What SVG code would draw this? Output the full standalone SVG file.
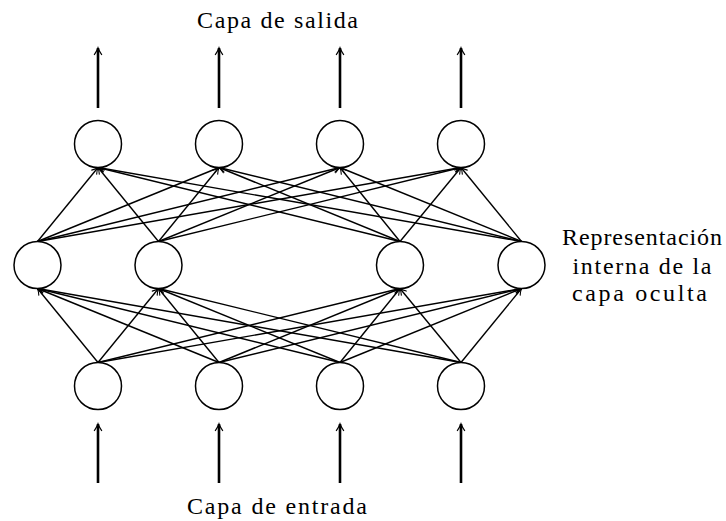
<svg xmlns="http://www.w3.org/2000/svg" width="726" height="521" viewBox="0 0 726 521">
<defs>
<marker id="ah" viewBox="-8 -5 10 10" refX="0" refY="0" markerWidth="10" markerHeight="10" markerUnits="userSpaceOnUse" orient="auto">
<path d="M-6,-3.2 Q-2.5,-0.8 0,0 Q-2.5,0.8 -6,3.2" fill="none" stroke="#000" stroke-width="1.1" stroke-linecap="round"/>
</marker>
<marker id="ahb" viewBox="-8 -5 10 10" refX="0" refY="0" markerWidth="10" markerHeight="10" markerUnits="userSpaceOnUse" orient="auto">
<path d="M-6.5,-3.6 Q-2.5,-0.9 0,0 Q-2.5,0.9 -6.5,3.6" fill="none" stroke="#000" stroke-width="1.3" stroke-linecap="round"/>
</marker>
</defs>
<style>
.n{fill:#fff;stroke:#000;stroke-width:1.5}
.c{stroke:#000;stroke-width:1.4;fill:none;marker-end:url(#ah)}
.io{stroke:#000;stroke-width:2.6;fill:none;marker-end:url(#ahb)}
.t{font-family:"Liberation Serif","Times New Roman",serif;font-size:24px;fill:#000}
</style>
<rect width="726" height="521" fill="#fff"/>
<g id="connectors">
<line class="io" x1="98" y1="483" x2="98" y2="424"/>
<line class="io" x1="219" y1="483" x2="219" y2="424"/>
<line class="io" x1="340" y1="483" x2="340" y2="424"/>
<line class="io" x1="461" y1="483" x2="461" y2="424"/>
<line class="io" x1="98" y1="108" x2="98" y2="48"/>
<line class="io" x1="219" y1="108" x2="219" y2="48"/>
<line class="io" x1="340" y1="108" x2="340" y2="48"/>
<line class="io" x1="461" y1="108" x2="461" y2="48"/>
<line class="c" x1="98" y1="362.5" x2="37.5" y2="288.5"/>
<line class="c" x1="98" y1="362.5" x2="158.5" y2="288.5"/>
<line class="c" x1="98" y1="362.5" x2="400" y2="288.5"/>
<line class="c" x1="98" y1="362.5" x2="521.5" y2="288.5"/>
<line class="c" x1="219" y1="362.5" x2="37.5" y2="288.5"/>
<line class="c" x1="219" y1="362.5" x2="158.5" y2="288.5"/>
<line class="c" x1="219" y1="362.5" x2="400" y2="288.5"/>
<line class="c" x1="219" y1="362.5" x2="521.5" y2="288.5"/>
<line class="c" x1="340" y1="362.5" x2="37.5" y2="288.5"/>
<line class="c" x1="340" y1="362.5" x2="158.5" y2="288.5"/>
<line class="c" x1="340" y1="362.5" x2="400" y2="288.5"/>
<line class="c" x1="340" y1="362.5" x2="521.5" y2="288.5"/>
<line class="c" x1="461" y1="362.5" x2="37.5" y2="288.5"/>
<line class="c" x1="461" y1="362.5" x2="158.5" y2="288.5"/>
<line class="c" x1="461" y1="362.5" x2="400" y2="288.5"/>
<line class="c" x1="461" y1="362.5" x2="521.5" y2="288.5"/>
<line class="c" x1="37.5" y1="241.5" x2="98" y2="167.5"/>
<line class="c" x1="37.5" y1="241.5" x2="219" y2="167.5"/>
<line class="c" x1="37.5" y1="241.5" x2="340" y2="167.5"/>
<line class="c" x1="37.5" y1="241.5" x2="461" y2="167.5"/>
<line class="c" x1="158.5" y1="241.5" x2="98" y2="167.5"/>
<line class="c" x1="158.5" y1="241.5" x2="219" y2="167.5"/>
<line class="c" x1="158.5" y1="241.5" x2="340" y2="167.5"/>
<line class="c" x1="158.5" y1="241.5" x2="461" y2="167.5"/>
<line class="c" x1="400" y1="241.5" x2="98" y2="167.5"/>
<line class="c" x1="400" y1="241.5" x2="219" y2="167.5"/>
<line class="c" x1="400" y1="241.5" x2="340" y2="167.5"/>
<line class="c" x1="400" y1="241.5" x2="461" y2="167.5"/>
<line class="c" x1="521.5" y1="241.5" x2="98" y2="167.5"/>
<line class="c" x1="521.5" y1="241.5" x2="219" y2="167.5"/>
<line class="c" x1="521.5" y1="241.5" x2="340" y2="167.5"/>
<line class="c" x1="521.5" y1="241.5" x2="461" y2="167.5"/>
</g>
<g id="out1"><circle class="n" cx="98" cy="144" r="23.5"/></g>
<g id="out2"><circle class="n" cx="219" cy="144" r="23.5"/></g>
<g id="out3"><circle class="n" cx="340" cy="144" r="23.5"/></g>
<g id="out4"><circle class="n" cx="461" cy="144" r="23.5"/></g>
<g id="hid1"><circle class="n" cx="37.5" cy="265" r="23.5"/></g>
<g id="hid2"><circle class="n" cx="158.5" cy="265" r="23.5"/></g>
<g id="hid3"><circle class="n" cx="400" cy="265" r="23.5"/></g>
<g id="hid4"><circle class="n" cx="521.5" cy="265" r="23.5"/></g>
<g id="in1"><circle class="n" cx="98" cy="386" r="23.5"/></g>
<g id="in2"><circle class="n" cx="219" cy="386" r="23.5"/></g>
<g id="in3"><circle class="n" cx="340" cy="386" r="23.5"/></g>
<g id="in4"><circle class="n" cx="461" cy="386" r="23.5"/></g>
<g id="labels">
<text class="t" x="277.5" y="28" text-anchor="middle" textLength="161" lengthAdjust="spacing">Capa de salida</text>
<text class="t" x="277" y="514" text-anchor="middle" textLength="180" lengthAdjust="spacing">Capa de entrada</text>
<text class="t" x="642" y="245" text-anchor="middle" textLength="160" lengthAdjust="spacing">Representación</text>
<text class="t" x="642" y="273.5" text-anchor="middle" textLength="139" lengthAdjust="spacing">interna de la</text>
<text class="t" x="639.5" y="301" text-anchor="middle" textLength="135" lengthAdjust="spacing">capa oculta</text>
</g>
</svg>
